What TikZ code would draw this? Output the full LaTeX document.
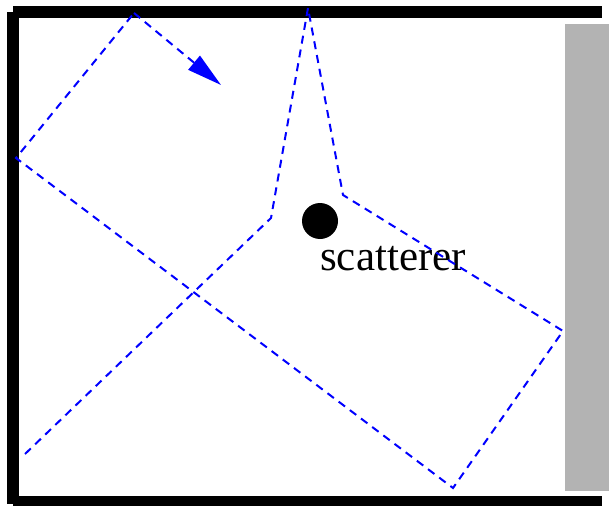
\documentclass[tikz,border=0pt]{standalone}
\usepackage{fontspec}
\setmainfont{Liberation Serif}
\usetikzlibrary{arrows.meta}
\definecolor{ray-blue}{HTML}{0000FF}
\definecolor{wall-grey}{HTML}{B3B3B3}

\begin{document}
\begin{tikzpicture}[x=1pt, y=-1pt,
    wall/.style={line width=12pt},
    ray/.style={color=ray-blue, line width=2pt, dash pattern=on 8pt off 6pt}]
  \useasboundingbox (0,0) rectangle (609,505);
  % grey wall on the right
  \fill[wall-grey] (565,24) rectangle (612,491);
  % black walls
  \draw[wall] (13,12) -- (602,12);
  \draw[wall] (13,12) -- (13,504);
  \draw[wall] (13,502) -- (602,502);
  % scatterer and its label
  \node[circle, fill=black, minimum size=36pt, inner sep=0pt] (sc) at (320,221) {};
  \node[anchor=base west, inner sep=0pt, font=\fontsize{43}{50}\selectfont] (lbl) at (320,270) {scatterer};
  % points where the ray turns
  \coordinate (r1) at (25,454);
  \coordinate (r2) at (271,218);
  \coordinate (r3) at (308,8);
  \coordinate (r4) at (343,195);
  \coordinate (r5) at (563,331);
  \coordinate (r6) at (453,488);
  \coordinate (r7) at (16,158);
  \coordinate (r8) at (134,13);
  \coordinate (tip) at (221,85);
  \draw[ray] (r1) -- (r2) -- (r3) -- (r4) -- (r5) -- (r6) -- (r7) -- (r8);
  \draw[ray, -{Triangle[length=35pt, width=18pt]}] (r8) -- (tip);
\end{tikzpicture}
\end{document}
